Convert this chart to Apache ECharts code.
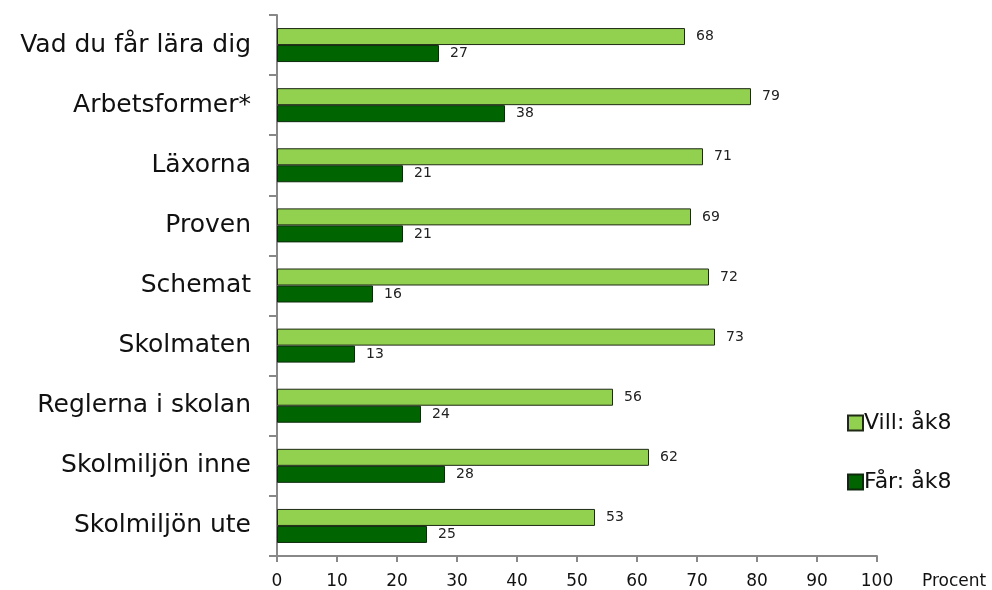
<!DOCTYPE html>
<html><head><meta charset="utf-8">
<script src="https://cdn.jsdelivr.net/npm/echarts@6/dist/echarts.min.js"></script>
<style>html,body{margin:0;padding:0;background:#fff}#c{width:992px;height:590px}</style>
</head><body><div id="c"></div>
<script>
const categories = ["Vad du får lära dig","Arbetsformer*","Läxorna","Proven","Schemat","Skolmaten","Reglerna i skolan","Skolmiljön inne","Skolmiljön ute"];
const vill = [68,79,71,69,72,73,56,62,53];
const far = [27,38,21,21,16,13,24,28,25];
const xTicks = [0,10,20,30,40,50,60,70,80,90,100];

const chart = echarts.init(document.getElementById('c'), null, {renderer:'canvas'});
const font = 'DejaVu Sans, Verdana, sans-serif';
const lbl = {show:true, position:'right', distance:11, color:'#222', fontSize:14, fontFamily:font};
chart.setOption({
  animation:false,
  grid:{left:277, right:115, top:15, bottom:34, containLabel:false},
  legend:{
    orient:'vertical', left:842, top:407, itemGap:37, itemWidth:15, itemHeight:15,
    icon:'rect', textStyle:{fontSize:22, fontFamily:font, color:'#111', padding:[0,0,0,-4]},
    data:['Vill: åk8','Får: åk8']
  },
  xAxis:{
    type:'value', min:0, max:100, interval:10,
    axisLine:{show:true, lineStyle:{color:'#888', width:2}},
    axisTick:{show:true, length:6, lineStyle:{color:'#888', width:2}},
    splitLine:{show:false},
    axisLabel:{fontSize:17, fontFamily:font, color:'#111', margin:17,
      formatter:v=>xTicks.includes(v)?String(v):''},
    name:'Procent', nameLocation:'end', nameGap:45,
    nameTextStyle:{fontSize:17, fontFamily:font, color:'#111', verticalAlign:'top', align:'left', padding:[17,0,0,0]}
  },
  yAxis:{
    type:'category', data:categories, inverse:true,
    axisLine:{show:true, lineStyle:{color:'#888', width:2}},
    axisTick:{show:true, length:8, lineStyle:{color:'#888', width:2}},
    axisLabel:{fontSize:25, fontFamily:font, color:'#111', margin:26}
  },
  series:[
    {name:'Vill: åk8', type:'bar', data:vill, barWidth:17, barGap:'0%',
     itemStyle:{color:'#92D050', borderColor:'#1e2a14', borderWidth:1}, label:lbl},
    {name:'Får: åk8', type:'bar', data:far, barWidth:17, barGap:'0%',
     itemStyle:{color:'#006400', borderColor:'#0d2a0d', borderWidth:1}, label:lbl}
  ]
});
</script></body></html>
